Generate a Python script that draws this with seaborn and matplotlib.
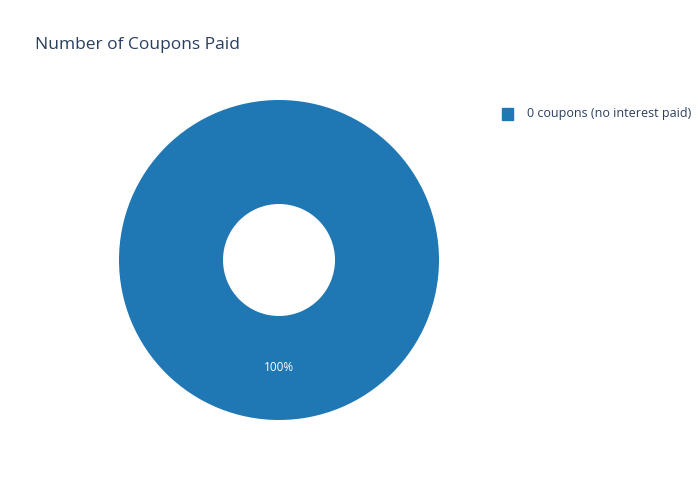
import matplotlib
matplotlib.use("Agg")
import matplotlib.pyplot as plt
import seaborn as sns
from matplotlib.patches import Rectangle

labels = ["0 coupons (no interest paid)"]
values = [1]

sns.set_theme(style="white")
plt.rcParams['font.family'] = ['Open Sans', 'DejaVu Sans']
colors = sns.color_palette("tab10", len(values))

fig = plt.figure(figsize=(7, 5), dpi=100)
ax = fig.add_axes([(279-160)/700, (240-160)/500, 320/700, 320/500])
total = sum(values)
wedges, texts, autotexts = ax.pie(values, colors=colors, radius=1, startangle=90,
    counterclock=False, autopct=lambda p: f"{p:.0f}%", pctdistance=0.675,
    wedgeprops=dict(width=0.65, edgecolor="white", linewidth=0),
    textprops=dict(color="white", fontsize=8.5))
ax.set_xlim(-1, 1); ax.set_ylim(-1, 1); ax.set_aspect("equal"); ax.axis("off")

fig.text(35/700, 1-45/500, "Number of Coupons Paid", fontsize=12.5, color="#2a3f5f", va="center")
for i, (lab, c) in enumerate(zip(labels, colors)):
    y = 1 - (114 + 19*i)/500
    fig.patches.append(Rectangle((502/700, y - 6/500), 11/700, 12/500, color=c, transform=fig.transFigure))
    fig.text(527/700, y, lab, fontsize=9, color="#2a3f5f", va="center")

fig.savefig("out.png", dpi=100, facecolor="white")
